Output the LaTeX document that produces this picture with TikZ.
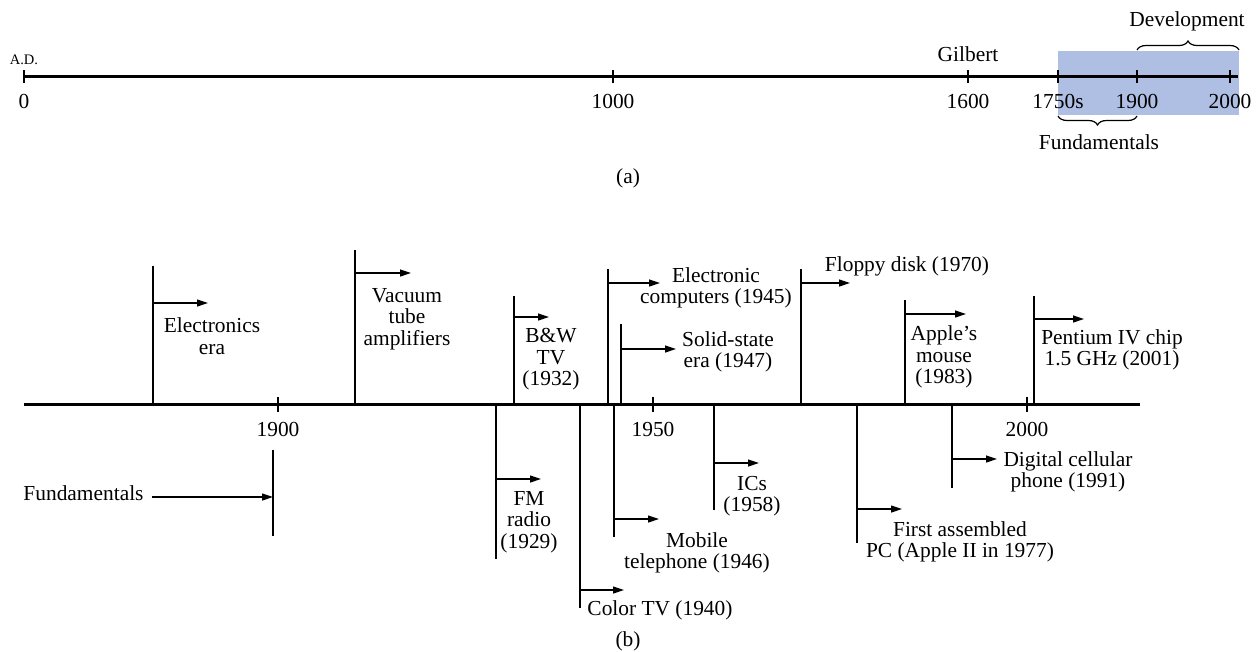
\documentclass[tikz,border=0pt]{standalone}
\usepackage{fontspec}
\setmainfont{Liberation Serif}
\usepackage{xcolor}
\usetikzlibrary{arrows.meta,decorations.pathreplacing}

\definecolor{eraband}{RGB}{174,191,227}
\tikzset{
  every node/.style={font=\fontsize{21.4}{21.5}\selectfont, inner sep=0pt, align=center},
  axisline/.style={line width=3pt},
  tickline/.style={line width=1.2pt},
  evline/.style={line width=1.2pt},
  evarrow/.style={line width=1.2pt, -{Triangle[length=11pt,width=7pt]}},
  bracedeco/.style={line width=1.2pt, decorate, decoration={brace, amplitude=9pt}},
}

\begin{document}
\begin{tikzpicture}[x=1pt, y=-1pt]
  \useasboundingbox (0,0) rectangle (1257,651);

  % (a) the long view
  \fill[eraband] (1058,51) rectangle (1239,115);
  \coordinate (ta-start) at (24,76.5);
  \coordinate (ta-end) at (1238,76.5);
  \draw[axisline] (ta-start) -- (ta-end);
  \foreach \x/\yr in {24/0, 613/1000, 968/1600, 1058/1750s, 1137/1900, 1230/2000} {
    \coordinate (ta\yr) at (\x,76.5);
    \draw[tickline] (ta\yr) ++(0,-6.5) -- ++(0,13);
    \node (lbla\yr) at (\x,101) {\yr};
  }
  \node[font=\fontsize{14.5}{14.5}\selectfont] (ad) at (24,59.5) {A.D.};
  \node (gilbert) at (968,53.7) {Gilbert};
  \coordinate (dev-l) at (1137,50);
  \coordinate (dev-r) at (1239,50);
  \draw[bracedeco] (dev-l) -- (dev-r);
  \node (dev) at (1187,21.7) {Development};
  \coordinate (fun-l) at (1058,116);
  \coordinate (fun-r) at (1137,116);
  \draw[bracedeco] (fun-r) -- (fun-l);
  \node (fun) at (1099,142.3) {Fundamentals};
  \node (capa) at (628,178) {(a)};

  % (b) the twentieth century
  \coordinate (tb-start) at (24,404.5);
  \coordinate (tb-end) at (1140,404.5);
  \draw[axisline] (tb-start) -- (tb-end);
  \foreach \x/\yr in {278/1900, 653/1950, 1027/2000} {
    \coordinate (tb\yr) at (\x,404.5);
    \draw[tickline] (tb\yr) ++(0,-7.5) -- ++(0,15);
    \node (lblb\yr) at (\x,429.7) {\yr};
  }
  \foreach \x/\yend/\ya/\xh/\lx/\ly/\txt [count=\i] in {
      153/266/303/208/212/336/{Electronics\\era},
      355/250/273/411/407/319/{Vacuum\\tube\\amplifiers},
      514/296/317/549/551/359.5/{B\&W\\TV\\(1932)},
      608/269/283/660/716/288/{Electronic\\computers (1945)},
      621/324/349/676/728/352/{Solid-state\\era (1947)},
      801/269/283/850/907/266/{Floppy disk (1970)},
      905/300/314/966/944/357/{Apple's\\mouse\\(1983)},
      1034/296/319/1084/1112/350/{Pentium IV chip\\1.5 GHz (2001)},
      496/559/479/541/529/522/{FM\\radio\\(1929)},
      580/608/590/624/660/610/{Color TV (1940)},
      614/537/519/659/697/552.6/{Mobile\\telephone (1946)},
      714/510/463/759/752/496/{ICs\\(1958)},
      857/543/509/902/960/542/{First assembled\\PC (Apple II in 1977)},
      952/488/459/997/1068/472/{Digital cellular\\phone (1991)}} {
    \coordinate (ev\i-base) at (\x,404.5);
    \coordinate (ev\i-end) at (\x,\yend);
    \coordinate (ev\i-tail) at (\x,\ya);
    \coordinate (ev\i-head) at (\xh,\ya);
    \draw[evline] (ev\i-base) -- (ev\i-end);
    \draw[evarrow] (ev\i-tail) -- (ev\i-head);
    \node (ev\i-lbl) at (\lx,\ly) {\txt};
  }
  \coordinate (fund-top) at (273,450);
  \coordinate (fund-bot) at (273,536);
  \coordinate (fund-tip) at (273,497);
  \draw[evline] (fund-top) -- (fund-bot);
  \node[inner xsep=8pt] (fund-lbl) at (83.5,493) {Fundamentals};
  \draw[evarrow] (fund-lbl.east |- fund-tip) -- (fund-tip);
  \node (capb) at (628,641.7) {(b)};
\end{tikzpicture}
\end{document}
